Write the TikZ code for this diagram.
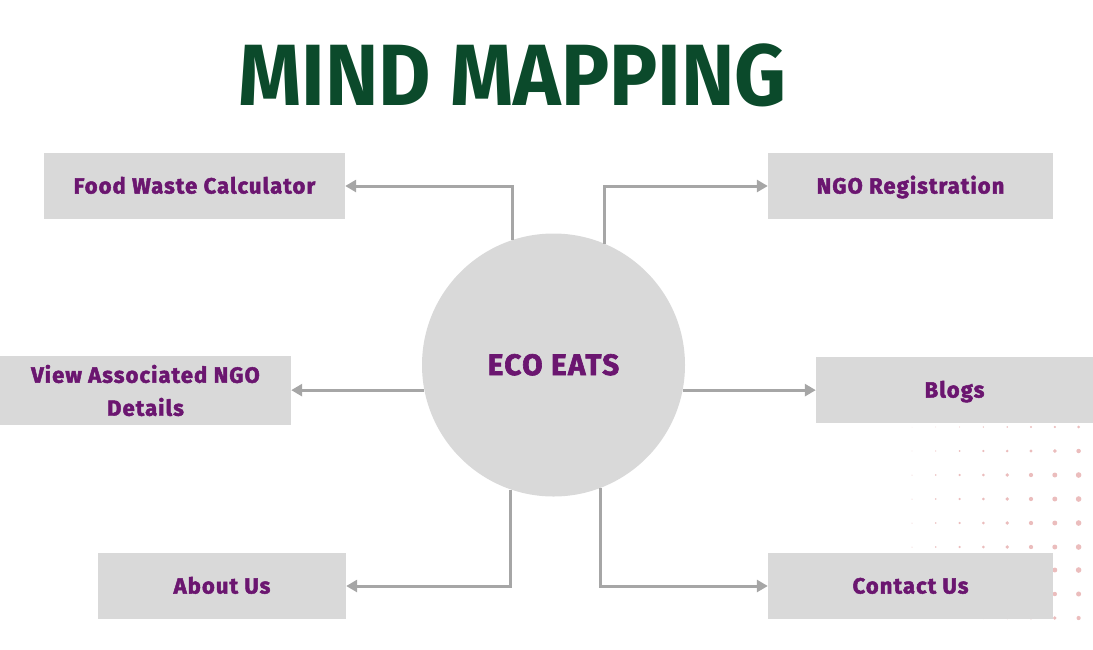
\documentclass[tikz,border=0pt]{standalone}
\usepackage{fontspec}
\setmainfont{Fira Sans}
\newfontfamily\boxfont{Fira Sans}[BoldFeatures={FakeBold=2.2, LetterSpace=5}]
\newfontfamily\titlefont{Fira Sans}
\usetikzlibrary{arrows.meta}
\definecolor{boxgray}{HTML}{D9D9D9}
\definecolor{txtpurple}{HTML}{6B1670}
\definecolor{titlegreen}{HTML}{0B4A2B}
\definecolor{linegray}{HTML}{A6A6A6}
\definecolor{dotpink}{HTML}{EBBDBD}
\begin{document}
\begin{tikzpicture}[x=1pt,y=-1pt,
  box/.style={fill=boxgray, draw=none, inner sep=0pt, text=txtpurple,
    font=\boxfont\bfseries\fontsize{22}{33}\selectfont, align=center},
  oneline/.style={text height=15pt, text depth=0pt},
  hub/.style={circle, fill=boxgray, draw=none, inner sep=0pt, minimum size=263pt,
    text=txtpurple, font=\boxfont\bfseries\fontsize{29.5}{34}\selectfont,
    text height=20pt, text depth=0pt},
  title/.style={text=titlegreen, inner sep=0pt, font=\titlefont\bfseries\fontsize{87}{90}\selectfont,
    text height=60pt, text depth=0pt},
  link/.style={draw=linegray, line width=3pt, -{Triangle[length=11pt,width=12pt]}},
  dot/.style={fill=dotpink}]
\useasboundingbox (0,0) rectangle (1093,649);

% decorative dot grid
\foreach \yy/\rf in {427/0.5, 451/0.8, 475/1, 499/1, 523/1, 547/1, 570/1, 594/0.9, 618/0.75} {
  \foreach \i in {0,...,7} {
    \pgfmathsetmacro\rr{(0.5+0.33*\i)*\rf}
    \fill[dot] (912+23.8*\i, \yy) circle[radius=\rr pt];
  }
}

\node[title] (title) at (512.5,75) {\scalebox{0.926}[1]{MIND MAPPING}};

\node[hub] (eco) at (553.5,365) {ECO EATS};

\node[box, oneline, minimum width=301pt, minimum height=66pt] (fwc) at (194.5,186) {Food Waste Calculator};
\node[box, oneline, minimum width=285pt, minimum height=66pt] (ngo) at (910.5,186) {NGO Registration};
\node[box, minimum width=291pt, minimum height=69pt] (view) at (145.5,390.5) {View Associated NGO\\Details};
\node[box, oneline, minimum width=277pt, minimum height=66pt] (blogs) at (954.5,390) {Blogs};
\node[box, oneline, minimum width=248pt, minimum height=66pt] (about) at (222,586) {About Us};
\node[box, oneline, minimum width=285pt, minimum height=66pt] (contact) at (910.5,586) {Contact Us};

\draw[link] (eco.108.9) |- (fwc.east);
\draw[link] (eco.67.4) |- (ngo.west);
\draw[link] (eco.191) -- (eco.191 -| view.east);
\draw[link] (eco.-11.4) -- (eco.-11.4 -| blogs.west);
\draw[link] (eco.251.1) |- (about.east);
\draw[link] (eco.291.2) |- (contact.west);
\end{tikzpicture}
\end{document}
